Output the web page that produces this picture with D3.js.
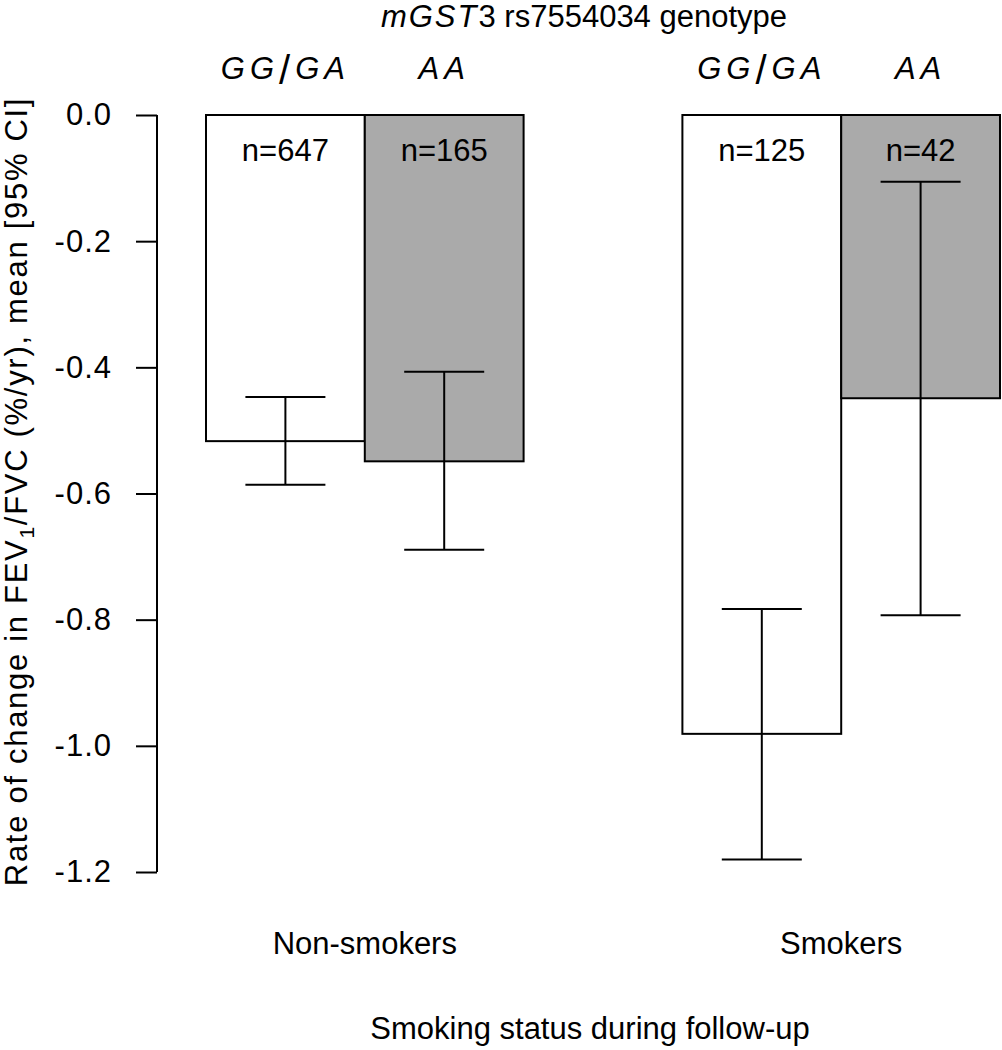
<!DOCTYPE html>
<html>
<head>
<meta charset="utf-8">
<script src="https://cdn.jsdelivr.net/npm/d3@7"></script>
<style>
  html, body { margin: 0; padding: 0; background: #fff; }
  svg { display: block; }
  text { font-family: "Liberation Sans", Arial, sans-serif; fill: #000; }
</style>
</head>
<body>
<svg id="chart" width="1002" height="1050"></svg>
<script>
// ---- data ----
const groups = ["Non-smokers", "Smokers"];
const genotypes = ["GG/GA", "AA"];
const barGroup = [0, 0, 1, 1];
const barGeno = [0, 1, 0, 1];
const barPos = [1, 2, 4, 5];            // bar left edges in bar-width units
const means = [-0.517, -0.549, -0.981, -0.449];
const ciLow = [-0.586, -0.689, -1.180, -0.793];
const ciHigh = [-0.447, -0.407, -0.783, -0.106];
const nLabels = ["n=647", "n=165", "n=125", "n=42"];
const barFills = ["#ffffff", "#aaaaaa", "#ffffff", "#aaaaaa"];
const yTicks = [0, -0.2, -0.4, -0.6, -0.8, -1.0, -1.2];

const svg = d3.select("#chart");
const FS = 31;

const x = d3.scaleLinear().domain([1, 6]).range([206, 1000]);
const y = d3.scaleLinear().domain([0, -1.2]).range([115, 872]);

// ---- y axis ----
const axisX = 157;
const yAxis = d3.axisLeft(y).tickValues(yTicks).tickFormat(d3.format(".1f")).tickSize(21).tickPadding(24);
const ag = svg.append("g").attr("transform", `translate(${axisX},0)`).call(yAxis);
ag.select(".domain").attr("d", `M0,${y(0)}V${y(-1.2)}`).attr("stroke", "#000").attr("stroke-width", 2).attr("fill", "none");
ag.selectAll(".tick line").attr("stroke", "#000").attr("stroke-width", 2);
ag.selectAll(".tick text")
  .attr("font-family", "Liberation Sans, Arial, sans-serif")
  .attr("font-size", FS).attr("fill", "#000").attr("letter-spacing", 1)
  .text(d => d3.format(".1f")(d).replace("−", "-"));

// ---- bars ----
const idx = d3.range(means.length);
svg.append("g").selectAll("rect").data(idx).join("rect")
  .attr("x", i => x(barPos[i]))
  .attr("width", i => x(barPos[i] + 1) - x(barPos[i]))
  .attr("y", y(0))
  .attr("height", i => y(means[i]) - y(0))
  .attr("fill", i => barFills[i])
  .attr("stroke", "#000").attr("stroke-width", 2);

// ---- error bars ----
const cx = i => (x(barPos[i]) + x(barPos[i] + 1)) / 2;
const capHalf = 40;
const eg = svg.append("g").attr("stroke", "#000").attr("stroke-width", 2).attr("fill", "none");
idx.forEach(i => {
  eg.append("line").attr("x1", cx(i)).attr("x2", cx(i)).attr("y1", y(ciLow[i])).attr("y2", y(ciHigh[i]));
  eg.append("line").attr("x1", cx(i) - capHalf).attr("x2", cx(i) + capHalf).attr("y1", y(ciLow[i])).attr("y2", y(ciLow[i]));
  eg.append("line").attr("x1", cx(i) - capHalf).attr("x2", cx(i) + capHalf).attr("y1", y(ciHigh[i])).attr("y2", y(ciHigh[i]));
});

// ---- n labels ----
svg.append("g").selectAll("text").data(idx).join("text")
  .attr("x", cx).attr("y", 161)
  .attr("text-anchor", "middle").attr("font-size", FS)
  .text(i => nLabels[i]);

// ---- genotype labels above bars ----
idx.forEach(i => {
  const t = svg.append("text").attr("x", cx(i)).attr("y", 79)
    .attr("text-anchor", "middle").attr("font-size", FS).attr("font-style", "italic")
    .attr("letter-spacing", 5);
  const g = genotypes[barGeno[i]];
  if (g.includes("/")) {
    const parts = g.split("/");
    t.append("tspan").text(parts[0]);
    t.append("tspan").attr("font-style", "normal").attr("font-size", 40).attr("dy", 5).text("/");
    t.append("tspan").attr("dy", -5).text(parts[1]);
  } else {
    t.text(g);
  }
});

// ---- title ----
const title = svg.append("text").attr("x", 584).attr("y", 27).attr("text-anchor", "middle").attr("font-size", FS);
title.append("tspan").attr("font-style", "italic").attr("letter-spacing", 2).text("mGST");
title.append("tspan").text("3 rs7554034 genotype");

// ---- group labels ----
svg.append("g").selectAll("text").data(groups).join("text")
  .attr("x", (d, gi) => {
    const bars = idx.filter(i => barGroup[i] === gi);
    return (x(barPos[bars[0]]) + x(barPos[bars[bars.length - 1]] + 1)) / 2;
  })
  .attr("y", 954).attr("text-anchor", "middle").attr("font-size", FS)
  .text(d => d);

// ---- x axis title ----
svg.append("text").attr("x", 590).attr("y", 1039).attr("text-anchor", "middle").attr("font-size", FS)
  .text("Smoking status during follow-up");

// ---- y axis title ----
const yt = svg.append("text").attr("transform", `translate(27,${(y(0) + y(-1.2)) / 2 - 2}) rotate(-90)`)
  .attr("text-anchor", "middle").attr("font-size", FS).attr("letter-spacing", 1.7);
yt.append("tspan").text("Rate of change in FEV");
yt.append("tspan").attr("font-size", 21).attr("dy", 7).text("1");
yt.append("tspan").attr("dy", -7).text("/FVC (%/yr), mean [95% CI]");
</script>
</body>
</html>
